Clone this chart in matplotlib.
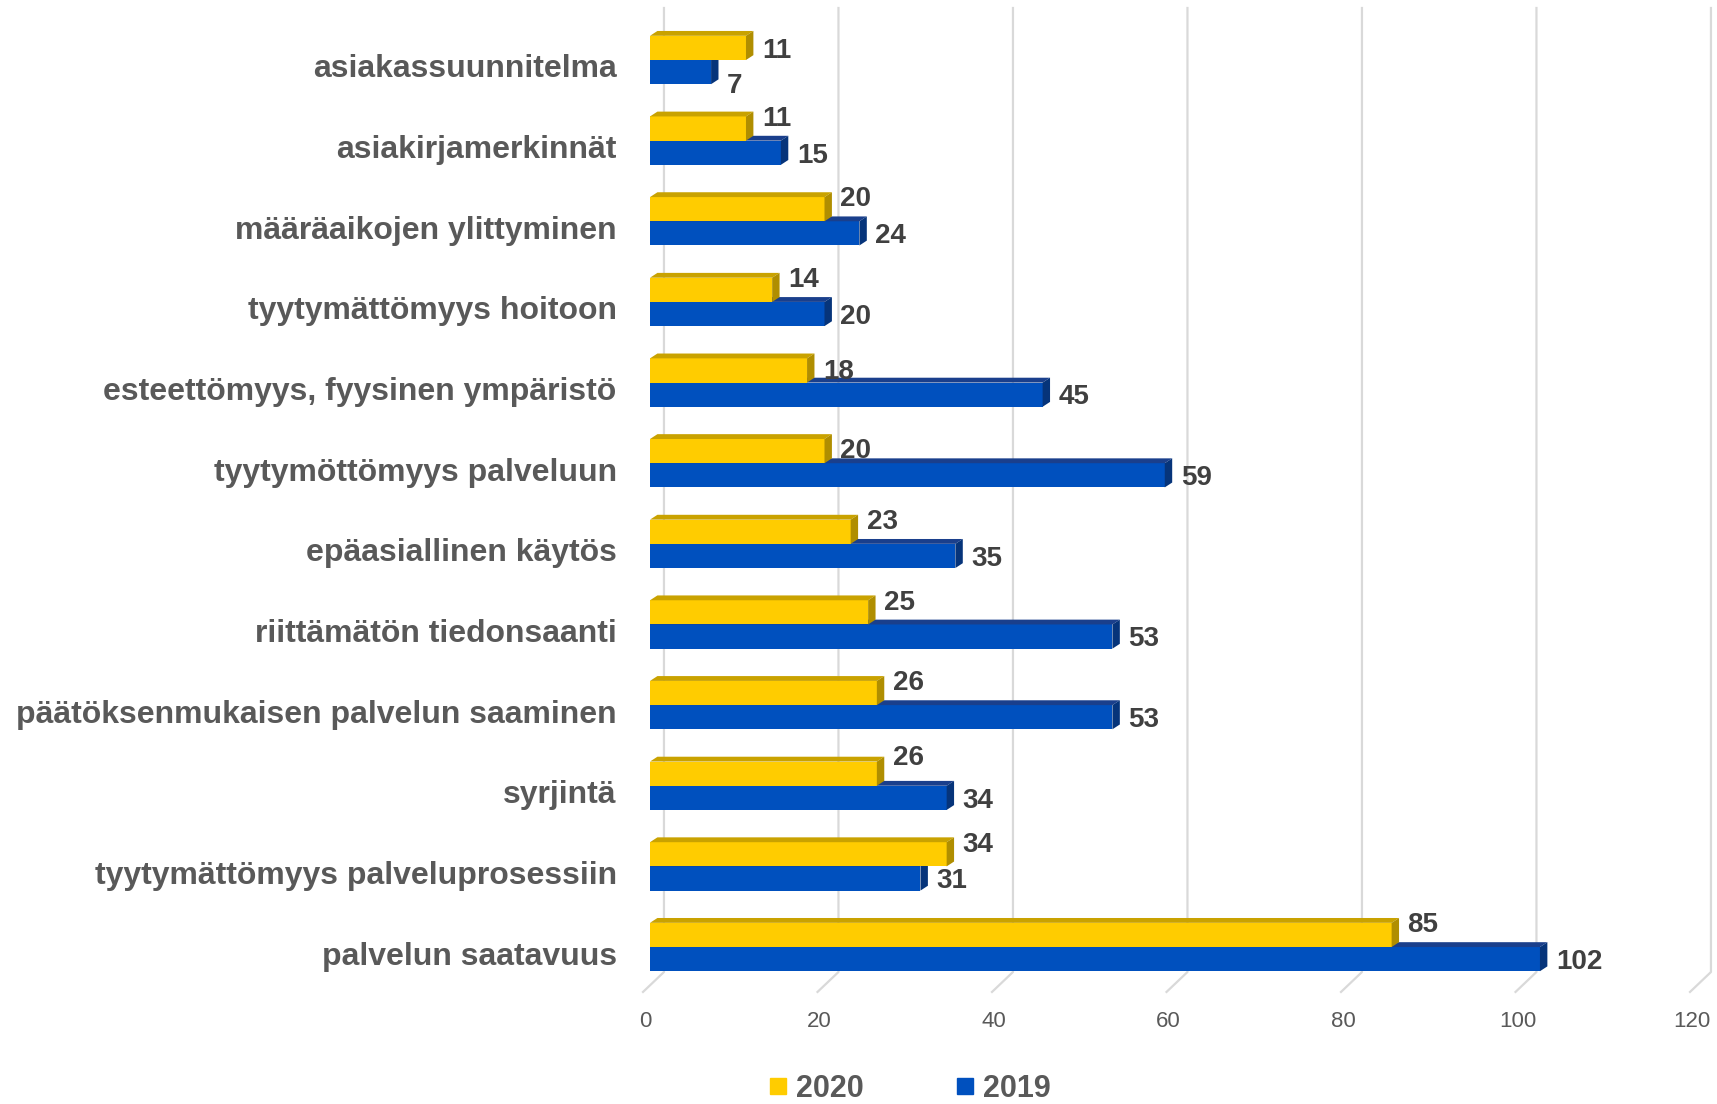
import matplotlib.pyplot as plt
import matplotlib.transforms as mtransforms
from matplotlib.patches import Polygon
from matplotlib.lines import Line2D

# data
categories = ['asiakassuunnitelma', 'asiakirjamerkinnät', 'määräaikojen ylittyminen',
              'tyytymättömyys hoitoon', 'esteettömyys, fyysinen ympäristö',
              'tyytymöttömyys palveluun', 'epäasiallinen käytös', 'riittämätön tiedonsaanti',
              'päätöksenmukaisen palvelun saaminen', 'syrjintä',
              'tyytymättömyys palveluprosessiin', 'palvelun saatavuus']
v2020 = [11, 11, 20, 14, 18, 20, 23, 25, 26, 26, 34, 85]
v2019 = [7, 15, 24, 20, 45, 59, 35, 53, 53, 34, 31, 102]
ticks = [0, 20, 40, 60, 80, 100, 120]

yellow = ('#FFCC00', '#C9A200', '#B08E00')
blue = ('#0050BE', '#1A3F8C', '#06347A')
bh = 0.3      # bar height
dx, dy = 0.85, 0.06   # depth of the 3d faces

# label nudges (points) where excel moved labels around
y_nudge_2020 = {0: -2, 4: -1, 5: 0, 9: 11}
y_nudge_2019 = {0: -10}

plt.rcParams['font.family'] = ['Liberation Sans', 'DejaVu Sans']

fig = plt.figure(figsize=(17.17, 11.04), dpi=100)
ax = fig.add_axes([650 / 1717, 1 - 1000 / 1104, 1047 / 1717, 1000 / 1104])
ax.set_xlim(0, 120)
ax.set_ylim(11.657, -0.744)
for s in ax.spines.values():
    s.set_visible(False)

# back wall gridlines + floor
gtop, gbot, gfloor = -0.645, 11.31, 11.557
for t in ticks:
    ax.plot([t + 1.6, t + 1.6, t - 0.8], [gtop, gbot, gfloor], color='#D9D9D9',
            lw=1.6, clip_on=False, zorder=0)


def bar3d(y0, v, cols, z):
    ax.barh(y0, v, height=bh, align='edge', color=cols[0], zorder=z)
    top = Polygon([(0, y0), (v, y0), (v + dx, y0 - dy), (dx, y0 - dy)],
                  closed=True, facecolor=cols[1], edgecolor='none', zorder=z)
    side = Polygon([(v, y0), (v + dx, y0 - dy), (v + dx, y0 + bh - dy), (v, y0 + bh)],
                   closed=True, facecolor=cols[2], edgecolor='none', zorder=z)
    ax.add_patch(top)
    ax.add_patch(side)


for i in range(len(categories)):
    bar3d(i, v2019[i], blue, 2)
    bar3d(i - bh, v2020[i], yellow, 3)
    ax.annotate(str(v2020[i]), (v2020[i], i - bh / 2), xytext=(11.5, y_nudge_2020.get(i, 7)),
                textcoords='offset points', ha='left', va='center',
                fontsize=20, fontweight='bold', color='#404040', zorder=5)
    ax.annotate(str(v2019[i]), (v2019[i], i + bh / 2), xytext=(11.5, y_nudge_2019.get(i, -2)),
                textcoords='offset points', ha='left', va='center',
                fontsize=20, fontweight='bold', color='#404040', zorder=5)

ax.set_yticks(range(len(categories)))
ax.set_yticklabels(categories, fontsize=23, fontweight='bold', color='#595959')
ax.tick_params(axis='y', length=0, pad=24)
for lab in ax.get_yticklabels():
    lab.set_transform(lab.get_transform() + mtransforms.ScaledTranslation(0, -6 / 100, fig.dpi_scale_trans))

ax.set_xticks(ticks)
ax.set_xticklabels([str(t) for t in ticks], fontsize=16, color='#595959')
ax.tick_params(axis='x', length=0, pad=8)
for lab in ax.get_xticklabels():
    lab.set_transform(lab.get_transform() + mtransforms.ScaledTranslation(-5 / 100, 0, fig.dpi_scale_trans))

handles = [Line2D([], [], marker='s', ls='none', markersize=11, color=yellow[0]),
           Line2D([], [], marker='s', ls='none', markersize=11, color=blue[0])]
leg = fig.legend(handles, ['2020', '2019'], ncol=2, loc='center',
                 bbox_to_anchor=(0.53, 0.014), frameon=False, handlelength=0.6,
                 handletextpad=0.3, columnspacing=3.0, borderpad=0,
                 prop={'size': 22, 'weight': 'bold'})
for t in leg.get_texts():
    t.set_color('#595959')

fig.savefig('out.png', dpi=100)
